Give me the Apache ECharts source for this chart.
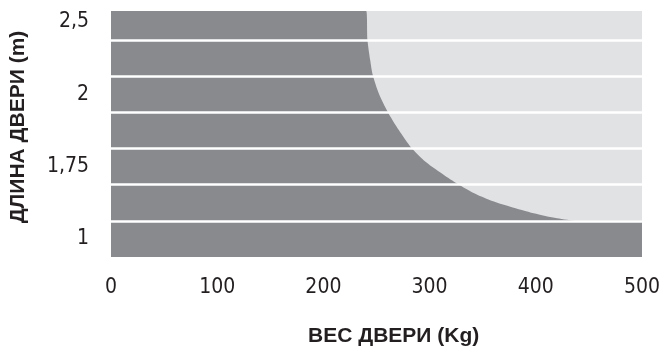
<!DOCTYPE html>
<html>
<head>
<meta charset="utf-8">
<script src="https://cdn.jsdelivr.net/npm/echarts@6/dist/echarts.min.js"></script>
<style>
  html, body { margin: 0; padding: 0; background: #fff; }
  #doorChart { width: 663px; height: 347px; }
</style>
</head>
<body>
<div id="doorChart"></div>
<script>
// вес двери (кг) по границе тёмной зоны
var weightKg = [0, 240.3, 241.5, 244.1, 246.5, 252.2, 260.6, 271, 282.8, 296.2, 308.7, 323, 342, 357, 376, 398, 420, 439, 500];
// высота границы в "полосах" (1 полоса = одна строка сетки)
var bandLevel = [6.8, 6.8, 6.0, 5.44, 5.03, 4.52, 4.01, 3.51, 3.02, 2.63, 2.36, 2.08, 1.76, 1.57, 1.39, 1.21, 1.07, 1.0, 1.0];
// белые линии между полосами
var bandEdges = [1, 2, 3, 4, 5, 6];
// подписи оси Y (длина двери) и их место
var yTickValues = [0.5, 2.5, 4.5, 6.5];
var yTickLabels = ['1', '1,75', '2', '2,5'];
var xTicks = [0, 100, 200, 300, 400, 500];

var narrow = "'Liberation Sans Narrow', 'DejaVu Sans Condensed', sans-serif";
var bold = "'Liberation Sans', Arial, sans-serif";

var dom = document.getElementById("doorChart");
var myChart = echarts.init(dom);

var option = {
    animation: false,
    title: {
        text: 'ВЕС ДВЕРИ (Kg)',
        left: 308,
        top: 326,
        padding: 0,
        textStyle: { fontFamily: bold, fontSize: 21, fontWeight: 'bold', color: '#231f20' }
    },
    grid: {
        left: 110,
        right: 21,
        top: 11,
        bottom: 90,
        show: true,
        backgroundColor: '#e1e2e4',
        borderWidth: 0
    },
    xAxis: {
        type: 'value',
        min: xTicks[0],
        max: xTicks[xTicks.length - 1],
        interval: 100,
        axisLine: { show: false },
        axisTick: { show: false },
        splitLine: { show: false },
        axisLabel: {
            margin: 20,
            fontFamily: narrow,
            fontSize: 21,
            color: '#231f20'
        }
    },
    yAxis: {
        type: 'value',
        min: 0,
        max: 6.8,
        name: 'ДЛИНА ДВЕРИ (m)',
        nameLocation: 'middle',
        nameRotate: 90,
        nameGap: 82,
        nameTextStyle: {
            fontFamily: bold, fontSize: 21, fontWeight: 'bold', color: '#231f20',
            padding: [0, 0, 0, 14]
        },
        axisLine: { show: false },
        axisTick: { show: false },
        splitLine: { show: false },
        axisLabel: {
            customValues: yTickValues,
            margin: 22,
            fontFamily: narrow,
            fontSize: 21,
            color: '#231f20',
            formatter: function (v) {
                var i = yTickValues.indexOf(v);
                return i >= 0 ? yTickLabels[i] : '';
            }
        }
    },
    series: [{
        type: 'line',
        data: weightKg.map(function (w, i) { return [w, bandLevel[i]]; }),
        smooth: 0.25,
        symbol: 'none',
        lineStyle: { width: 0 },
        areaStyle: { color: '#898a8e', opacity: 1 },
        markLine: {
            silent: true,
            symbol: 'none',
            label: { show: false },
            lineStyle: { color: '#ffffff', width: 2.5, type: 'solid' },
            data: bandEdges.map(function (e) { return { yAxis: e }; })
        }
    }]
};
myChart.setOption(option);
</script>
</body>
</html>
